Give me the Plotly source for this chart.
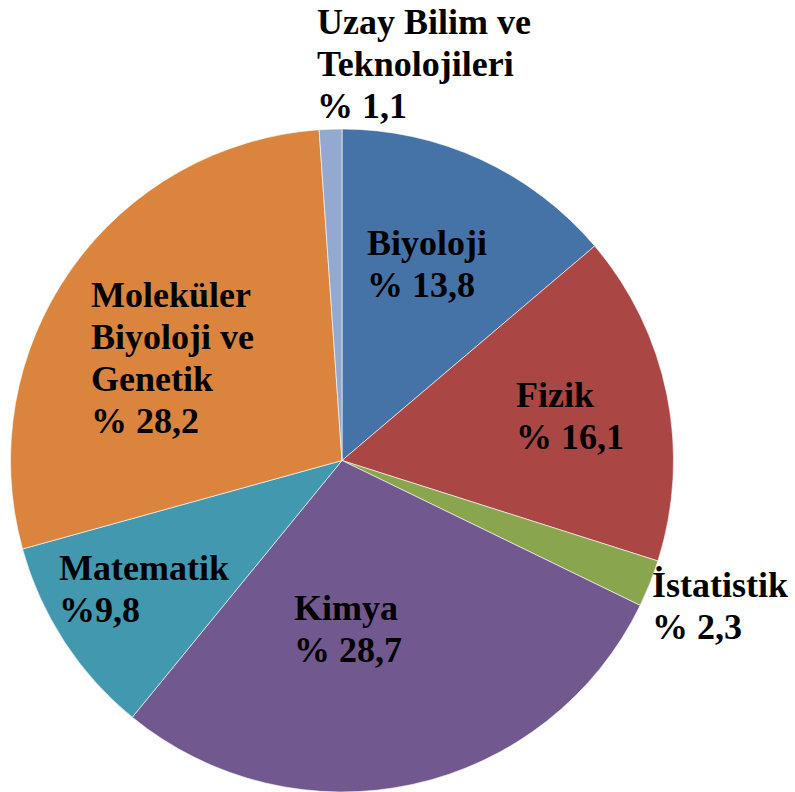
import plotly.graph_objects as go

categories = ["Biyoloji", "Fizik", "İstatistik", "Kimya", "Matematik",
              "Moleküler Biyoloji ve Genetik", "Uzay Bilim ve Teknolojileri"]
values = [13.8, 16.1, 2.3, 28.7, 9.8, 28.2, 1.1]
label_lines = [["Biyoloji"], ["Fizik"], ["İstatistik"], ["Kimya"], ["Matematik"],
               ["Moleküler", "Biyoloji ve", "Genetik"], ["Uzay Bilim ve", "Teknolojileri"]]
pct_prefix = ["% ", "% ", "% ", "% ", "%", "% ", "% "]
colors = ["#4572A7", "#AA4643", "#89A54E", "#71588F", "#4198AF", "#DB843D", "#93A9CF"]

# label placement (left x px, first-line center y px)
label_pos = [(368, 243), (517, 395), (653, 585), (295, 608), (60, 568), (92, 295), (318, 22)]
line_gap = 42

W, H = 795, 792

fig = go.Figure(go.Pie(
    labels=categories, values=values, sort=False, direction="clockwise", rotation=0,
    marker=dict(colors=colors, line=dict(color="rgba(255,255,255,0.6)", width=1)),
    textinfo="none", hoverinfo="label+percent", showlegend=False,
    domain=dict(x=[(342 - 332) / W, (342 + 332) / W], y=[0, 663 / H]),
))

annotations = []
for lines, pre, v, (px, py) in zip(label_lines, pct_prefix, values, label_pos):
    all_lines = lines + [pre + f"{v:.1f}".replace(".", ",")]
    for i, t in enumerate(all_lines):
        annotations.append(dict(
            text="<b>" + t + "</b>", xref="paper", yref="paper",
            x=(px - 3) / W, y=1 - (py + i * line_gap) / H,
            xanchor="left", yanchor="middle", showarrow=False,
            font=dict(family="Liberation Serif", size=36, color="#000000"),
        ))

fig.update_layout(
    width=W, height=H, margin=dict(l=0, r=0, t=0, b=0),
    paper_bgcolor="white", plot_bgcolor="white",
    annotations=annotations,
)
fig.write_html("out.html", config={"displayModeBar": False},
               post_script="document.body.style.margin='0';document.body.style.overflow='hidden';")
